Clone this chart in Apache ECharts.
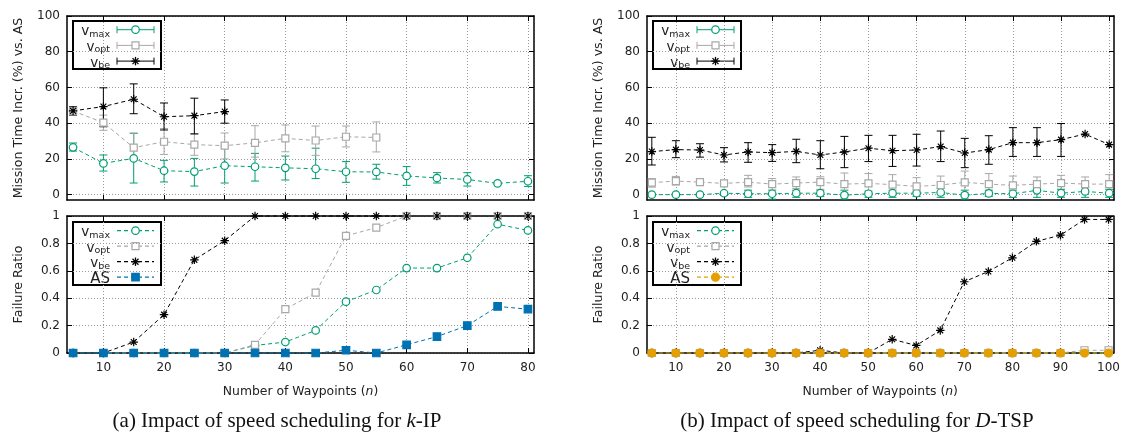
<!DOCTYPE html>
<html>
<head>
<meta charset="utf-8">
<script src="https://cdn.jsdelivr.net/npm/echarts@6/dist/echarts.min.js"></script>
<style>
  html, body { margin: 0; padding: 0; background: #fff; }
  #chart { width: 1123px; height: 432px; }
</style>
</head>
<body>
<div id="chart"></div>
<script>
// ---- Waypoint counts -------------------------------------------------------
const nKIP  = [5, 10, 15, 20, 25, 30, 35, 40, 45, 50, 55, 60, 65, 70, 75, 80];
const nDTSP = [5, 10, 15, 20, 25, 30, 35, 40, 45, 50, 55, 60, 65, 70, 75, 80, 85, 90, 95, 100];

// ---- k-IP: mission time increase (%) vs. AS (mean, lower, upper) ------------
const kipMaxMean = [26.5, 17.5, 20.3, 13.4, 12.9, 16.2, 15.6, 15.0, 14.5, 12.8, 12.7, 10.5, 9.3, 8.5, 6.3, 7.5];
const kipMaxLow  = [24.4, 13.2, 6.5, 7.1, 4.8, 6.5, 7.6, 8.2, 9.0, 6.9, 8.7, 5.2, 6.5, 4.8, 5.8, 4.6];
const kipMaxHigh = [28.9, 22.2, 34.3, 19.2, 20.3, 27.0, 23.1, 21.6, 26.0, 18.5, 17.0, 15.7, 12.3, 12.3, 6.8, 10.6];

const kipOptN    = [5, 10, 15, 20, 25, 30, 35, 40, 45, 50, 55];
const kipOptMean = [46.8, 40.3, 26.3, 29.6, 28.0, 27.4, 29.0, 31.5, 30.3, 32.4, 32.0];
const kipOptLow  = [45.5, 36.0, 19.5, 22.5, 22.0, 20.0, 21.0, 24.0, 22.0, 26.7, 23.9];
const kipOptHigh = [48.0, 44.5, 34.5, 37.0, 34.0, 34.5, 38.6, 39.0, 38.4, 38.4, 40.7];

const kipBeN    = [5, 10, 15, 20, 25, 30];
const kipBeMean = [46.9, 49.3, 53.4, 43.6, 44.2, 46.5];
const kipBeLow  = [44.5, 38.0, 45.3, 36.2, 34.0, 40.0];
const kipBeHigh = [49.2, 59.8, 62.0, 51.3, 54.0, 53.0];

// ---- k-IP: failure ratio -----------------------------------------------------
const kipFailMax = [0, 0, 0, 0, 0, 0, 0.055, 0.08, 0.165, 0.375, 0.46, 0.62, 0.62, 0.695, 0.94, 0.895];
const kipFailOpt = [0, 0, 0, 0, 0, 0, 0.06, 0.32, 0.44, 0.855, 0.915, 1, 1, 1, 1, 1];
const kipFailBe  = [0, 0, 0.08, 0.28, 0.68, 0.82, 1, 1, 1, 1, 1, 1, 1, 1, 1, 1];
const kipFailAS  = [0, 0, 0, 0, 0, 0, 0, 0, 0, 0.02, 0, 0.06, 0.12, 0.2, 0.34, 0.32];

// ---- D-TSP: mission time increase (%) vs. AS (mean, lower, upper) -----------
const tspMaxMean = [0, 0, 0, 0.8, 0.5, 0.5, 0.8, 0.8, -0.3, 0.5, 0.8, 0.8, 1.2, -0.3, 0.7, 0.5, 2.4, 0.8, 1.8, 0.8];
const tspMaxLow  = [-0.3, -0.3, -0.3, -0.5, -1.5, -2.5, -1.5, -1.0, -2.5, -1.5, -1.5, -1.0, -1.5, -2.5, -1.0, -1.5, -1.5, -1.5, -1.5, -1.5];
const tspMaxHigh = [0.3, 0.3, 0.3, 1.5, 2.5, 2.5, 2.5, 2.5, 2.5, 2.0, 2.5, 2.0, 3.5, 2.5, 2.5, 2.5, 4.5, 3.0, 4.0, 3.0];

const tspOptMean = [6.7, 7.6, 7.0, 6.3, 7.0, 5.9, 6.5, 7.0, 5.9, 6.3, 5.6, 4.6, 5.4, 6.9, 5.9, 5.2, 5.9, 6.5, 5.9, 5.9];
const tspOptLow  = [4.2, 5.4, 5.5, 4.8, 4.3, 2.4, 3.4, 3.0, 0.9, 1.0, 1.0, 1.0, 1.0, 1.0, 1.0, 0.5, 1.5, 2.0, 1.5, 1.0];
const tspOptHigh = [9.0, 10.2, 8.8, 8.0, 10.8, 9.0, 9.9, 10.0, 12.1, 11.8, 11.2, 9.5, 10.4, 13.2, 11.8, 10.4, 9.9, 10.8, 9.9, 11.2];

const tspBeMean = [24.1, 25.2, 25.0, 22.2, 23.9, 23.5, 24.2, 22.2, 23.9, 26.0, 24.6, 25.0, 26.9, 23.3, 25.2, 29.1, 29.1, 30.8, 33.9, 28.0];
const tspBeLow  = [16.6, 20.7, 21.0, 18.3, 18.1, 18.6, 17.9, 14.5, 15.1, 18.5, 15.8, 16.0, 18.5, 15.1, 17.0, 21.4, 21.4, 21.4, 33.9, 28.0];
const tspBeHigh = [32.1, 30.2, 28.5, 26.3, 29.1, 28.0, 31.0, 30.2, 32.6, 33.2, 33.2, 33.8, 35.6, 31.5, 33.0, 37.5, 37.5, 39.8, 33.9, 28.0];

// ---- D-TSP: failure ratio ----------------------------------------------------
const tspFailMax = [0, 0, 0, 0, 0, 0, 0, 0, 0, 0, 0, 0, 0, 0, 0, 0, 0, 0, 0, 0];
const tspFailOpt = [0, 0, 0, 0, 0, 0, 0, 0, 0, 0, 0, 0, 0, 0, 0, 0, 0, 0, 0.02, 0.02];
const tspFailBe  = [0, 0, 0, 0, 0, 0, 0, 0.02, 0, 0, 0.1, 0.055, 0.165, 0.52, 0.595, 0.695, 0.815, 0.86, 0.975, 0.975];
const tspFailAS  = [0, 0, 0, 0, 0, 0, 0, 0, 0, 0, 0, 0, 0, 0, 0, 0, 0, 0, 0, 0];

// ---- Axis ticks and labels ---------------------------------------------------
const kipXTicks  = [10, 20, 30, 40, 50, 60, 70, 80];
const tspXTicks  = [10, 20, 30, 40, 50, 60, 70, 80, 90, 100];
const timeYTicks = [0, 20, 40, 60, 80, 100];
const seriesNames = ['v_max', 'v_opt', 'v_be', 'AS'];
const subscripts  = { v_max: 'max', v_opt: 'opt', v_be: 'be' };
const captions = [
  '(a) Impact of speed scheduling for {i|k}-IP',
  '(b) Impact of speed scheduling for {i|D}-TSP'
];
const timeTitle = 'Mission Time Incr. (%) vs. AS';
const failTitle = 'Failure Ratio';

// ---- Styles ------------------------------------------------------------------
const C_MAX = '#009e73', C_OPT = '#a8a8a8', C_BE = '#000000', C_AS_KIP = '#0072b2', C_AS_TSP = '#e69f00';
const SANS = 'DejaVu Sans';
const SERIF = 'Liberation Serif';
const STAR = 'path://M5 0V10M0 5H10M1.6 1.6L8.4 8.4M1.6 8.4L8.4 1.6';
const styles = {
  v_max: { symbol: 'circle', size: 7.5, color: C_MAX, fill: '#fff' },
  v_opt: { symbol: 'rect', size: 7, color: C_OPT, fill: '#fff' },
  v_be:  { symbol: STAR, size: 8.5, color: C_BE, fill: C_BE }
};
const asKip = { symbol: 'rect', size: 7.5, color: C_AS_KIP, fill: C_AS_KIP };
const asTsp = { symbol: 'circle', size: 8, color: C_AS_TSP, fill: C_AS_TSP };

// Panel rectangles: k-IP time, k-IP failure, D-TSP time, D-TSP failure
const grids = [
  { left: 67,  top: 16,  width: 467, height: 184 },
  { left: 67,  top: 216, width: 467, height: 137 },
  { left: 647, top: 16,  width: 467, height: 184 },
  { left: 647, top: 216, width: 467, height: 137 }
];
const xRanges = [[4, 81], [4, 81], [4, 101], [4, 101]];
const xTickSets = [kipXTicks, kipXTicks, tspXTicks, tspXTicks];

const labelFont = { fontFamily: SANS, fontSize: 12, color: '#222' };
const titleFont = { fontFamily: SANS, fontSize: 12.6, color: '#222' };
const gridLine = { show: true, lineStyle: { type: [1, 2], color: '#999', width: 1 } };
const axisLine = { show: true, onZero: false, lineStyle: { color: '#000', width: 1.5 } };
const tick = (vals) => ({ show: true, inside: true, length: 5, customValues: vals, lineStyle: { color: '#000', width: 1 } });

const xAxes = [], yAxes = [];
grids.forEach((g, i) => {
  const isFail = i % 2 === 1;
  xAxes.push({
    type: 'value', gridIndex: i, position: 'bottom', min: xRanges[i][0], max: xRanges[i][1],
    axisLine, axisTick: tick(xTickSets[i]), splitLine: gridLine,
    axisLabel: isFail ? Object.assign({ show: true, margin: 9, customValues: xTickSets[i] }, labelFont) : { show: false },
    name: isFail ? '{r|Number of Waypoints (}{i|n}{r|)}' : '',
    nameLocation: 'middle', nameGap: 33,
    nameTextStyle: { rich: {
      r: { fontFamily: SANS, fontSize: 12.4, color: '#222' },
      i: { fontFamily: SANS, fontSize: 12.4, fontStyle: 'italic', color: '#222' }
    } }
  });
  yAxes.push(isFail ? {
    type: 'value', gridIndex: i, position: 'left', min: 0, max: 1, interval: 0.2,
    axisLine, axisTick: { show: true, inside: true, length: 5, lineStyle: { color: '#000' } }, splitLine: gridLine,
    axisLabel: Object.assign({ margin: 7 }, labelFont),
    name: failTitle, nameLocation: 'middle', nameGap: 42, nameTextStyle: titleFont
  } : {
    type: 'value', gridIndex: i, position: 'left', min: -3, max: 100,
    axisLine, axisTick: tick(timeYTicks), splitLine: gridLine,
    axisLabel: Object.assign({ margin: 7, customValues: timeYTicks }, labelFont),
    name: timeTitle, nameLocation: 'middle', nameGap: 42, nameTextStyle: titleFont
  });
});
// Mirrored frame axes (top and right) carrying inward ticks only
grids.forEach((g, i) => {
  const isFail = i % 2 === 1;
  xAxes.push({
    type: 'value', gridIndex: i, position: 'top', min: xRanges[i][0], max: xRanges[i][1],
    axisLine, axisTick: tick(xTickSets[i]), axisLabel: { show: false }, splitLine: { show: false }
  });
  yAxes.push(isFail ? {
    type: 'value', gridIndex: i, position: 'right', min: 0, max: 1, interval: 0.2,
    axisLine, axisTick: { show: true, inside: true, length: 5, lineStyle: { color: '#000' } },
    axisLabel: { show: false }, splitLine: { show: false }
  } : {
    type: 'value', gridIndex: i, position: 'right', min: -3, max: 100,
    axisLine, axisTick: tick(timeYTicks), axisLabel: { show: false }, splitLine: { show: false }
  });
});

// Vertical error bars with caps, positioned through the panel's scales
function errorBars(xs, lo, hi, color, gi) {
  return {
    type: 'custom', xAxisIndex: gi, yAxisIndex: gi, silent: true, clip: true, z: 2,
    data: xs.map((x, k) => [x, lo[k], hi[k]]),
    encode: { x: 0, y: [1, 2] },
    renderItem(params, api) {
      const x = api.value(0), a = api.value(1), b = api.value(2);
      if (a === b) return null;
      const p = api.coord([x, a]), q = api.coord([x, b]);
      const w = 4, st = { stroke: color, lineWidth: 1 };
      return { type: 'group', children: [
        { type: 'line', shape: { x1: p[0], y1: p[1], x2: q[0], y2: q[1] }, style: st },
        { type: 'line', shape: { x1: p[0] - w, y1: p[1], x2: p[0] + w, y2: p[1] }, style: st },
        { type: 'line', shape: { x1: q[0] - w, y1: q[1], x2: q[0] + w, y2: q[1] }, style: st }
      ] };
    }
  };
}
function lineSeries(name, xs, ys, s, gi) {
  return {
    type: 'line', name, xAxisIndex: gi, yAxisIndex: gi, clip: false, z: 3,
    data: xs.map((x, k) => [x, ys[k]]),
    symbol: s.symbol, symbolSize: s.size, showAllSymbol: true,
    lineStyle: { color: s.color, width: 1, type: [4, 3] },
    itemStyle: { color: s.fill, borderColor: s.color, borderWidth: 1.2 }
  };
}

const series = [
  // k-IP mission time
  errorBars(nKIP, kipMaxLow, kipMaxHigh, C_MAX, 0),
  lineSeries('v_max', nKIP, kipMaxMean, styles.v_max, 0),
  errorBars(kipOptN, kipOptLow, kipOptHigh, C_OPT, 0),
  lineSeries('v_opt', kipOptN, kipOptMean, styles.v_opt, 0),
  errorBars(kipBeN, kipBeLow, kipBeHigh, C_BE, 0),
  lineSeries('v_be', kipBeN, kipBeMean, styles.v_be, 0),
  // k-IP failure ratio
  lineSeries('v_max', nKIP, kipFailMax, styles.v_max, 1),
  lineSeries('v_opt', nKIP, kipFailOpt, styles.v_opt, 1),
  lineSeries('v_be', nKIP, kipFailBe, styles.v_be, 1),
  lineSeries('AS', nKIP, kipFailAS, asKip, 1),
  // D-TSP mission time
  errorBars(nDTSP, tspMaxLow, tspMaxHigh, C_MAX, 2),
  lineSeries('v_max', nDTSP, tspMaxMean, styles.v_max, 2),
  errorBars(nDTSP, tspOptLow, tspOptHigh, C_OPT, 2),
  lineSeries('v_opt', nDTSP, tspOptMean, styles.v_opt, 2),
  errorBars(nDTSP, tspBeLow, tspBeHigh, C_BE, 2),
  lineSeries('v_be', nDTSP, tspBeMean, styles.v_be, 2),
  // D-TSP failure ratio
  lineSeries('v_max', nDTSP, tspFailMax, styles.v_max, 3),
  lineSeries('v_opt', nDTSP, tspFailOpt, styles.v_opt, 3),
  lineSeries('v_be', nDTSP, tspFailBe, styles.v_be, 3),
  lineSeries('AS', nDTSP, tspFailAS, asTsp, 3)
];

// ---- Key boxes -----------------------------------------------------------------
function markerShape(s, cx, cy) {
  if (s.symbol === STAR) {
    const r = 4.2, d = 3, st = { stroke: s.color, lineWidth: 1.3 };
    return [
      { type: 'line', shape: { x1: cx - r, y1: cy, x2: cx + r, y2: cy }, style: st },
      { type: 'line', shape: { x1: cx, y1: cy - r, x2: cx, y2: cy + r }, style: st },
      { type: 'line', shape: { x1: cx - d, y1: cy - d, x2: cx + d, y2: cy + d }, style: st },
      { type: 'line', shape: { x1: cx - d, y1: cy + d, x2: cx + d, y2: cy - d }, style: st }
    ];
  }
  const st = { fill: s.fill, stroke: s.color, lineWidth: 1.2 };
  if (s.symbol === 'circle') return [{ type: 'circle', shape: { cx, cy, r: s.size / 2 }, style: st }];
  return [{ type: 'rect', shape: { x: cx - s.size / 2, y: cy - s.size / 2, width: s.size, height: s.size }, style: st }];
}
function keyBox(x0, y0, names, styleOf, withCaps) {
  const rowH = withCaps ? 15.7 : 15.5;
  const h = withCaps ? 48 : 63;
  const kids = [{ type: 'rect', shape: { x: x0, y: y0, width: 88, height: h }, style: { fill: '#fff', stroke: '#000', lineWidth: 2 } }];
  names.forEach((nm, k) => {
    const cy = y0 + 8.7 + k * rowH;
    const s = styleOf(nm);
    const label = subscripts[nm] ? '{v|v}{s|' + subscripts[nm] + '}' : '{a|' + nm + '}';
    kids.push({ type: 'text', x: x0 + 37, y: cy + 2, style: {
      text: label, align: 'right', verticalAlign: 'middle', fill: '#222',
      rich: {
        v: { fontFamily: SANS, fontSize: 13.5, fill: '#222' },
        s: { fontFamily: SANS, fontSize: 9.5, fill: '#222', padding: [5, 0, 0, 0] },
        a: { fontFamily: SANS, fontSize: 15, fill: '#222' }
      }
    } });
    const xa = x0 + 44, xb = x0 + 81, xm = (xa + xb) / 2;
    if (withCaps) {
      const st = { stroke: s.color, lineWidth: 1 };
      kids.push({ type: 'line', shape: { x1: xa, y1: cy, x2: xb, y2: cy }, style: st });
      kids.push({ type: 'line', shape: { x1: xa, y1: cy - 3.5, x2: xa, y2: cy + 3.5 }, style: st });
      kids.push({ type: 'line', shape: { x1: xb, y1: cy - 3.5, x2: xb, y2: cy + 3.5 }, style: st });
    } else {
      kids.push({ type: 'line', shape: { x1: xa, y1: cy, x2: xb, y2: cy }, style: { stroke: s.color, lineWidth: 1.2, lineDash: [4, 3] } });
    }
    markerShape(s, xm, cy).forEach(m => kids.push(m));
  });
  return { type: 'group', z: 100, children: kids };
}
const timeNames = seriesNames.slice(0, 3);
const graphic = [
  keyBox(73, 21, timeNames, nm => styles[nm], true),
  keyBox(73, 222, seriesNames, nm => nm === 'AS' ? asKip : styles[nm], false),
  keyBox(653, 21, timeNames, nm => styles[nm], true),
  keyBox(653, 222, seriesNames, nm => nm === 'AS' ? asTsp : styles[nm], false),
  ...captions.map((c, k) => ({
    type: 'text', x: k === 0 ? 277 : 857, y: 421, z: 100,
    style: {
      text: c, align: 'center', verticalAlign: 'middle',
      fontFamily: SERIF, fontSize: 21, fill: '#111',
      rich: { i: { fontFamily: SERIF, fontSize: 21, fontStyle: 'italic', fill: '#111' } }
    }
  }))
];

const chart = echarts.init(document.getElementById('chart'), null, { renderer: 'canvas' });
chart.setOption({
  animation: false,
  backgroundColor: '#fff',
  grid: grids,
  xAxis: xAxes,
  yAxis: yAxes,
  series,
  graphic
});
</script>
</body>
</html>
